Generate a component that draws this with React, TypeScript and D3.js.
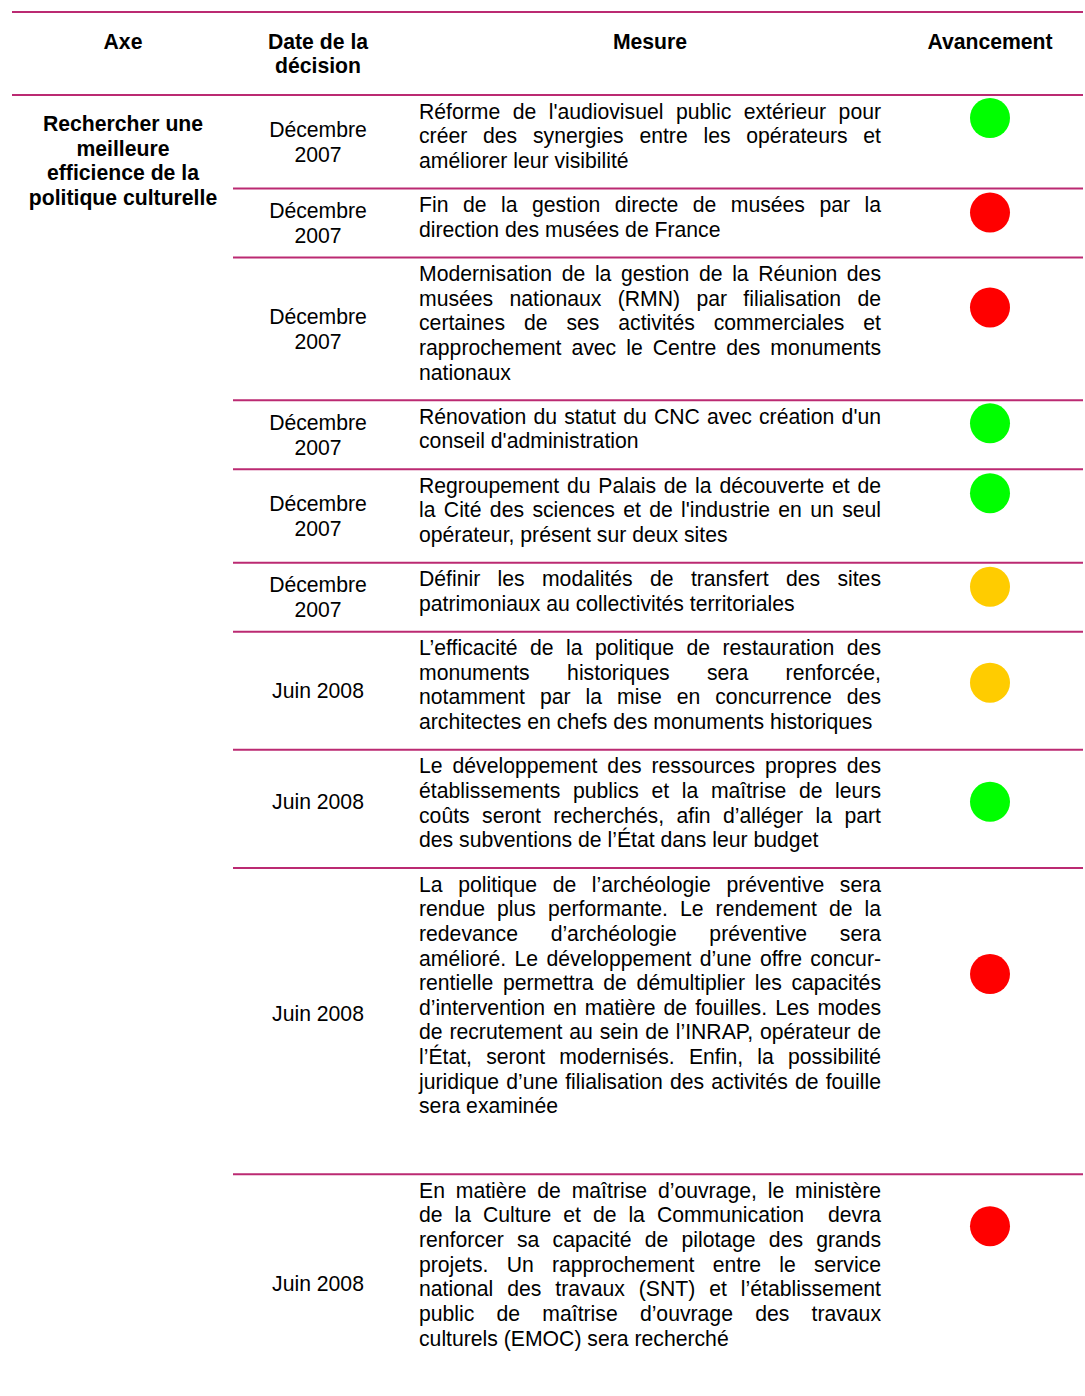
import React, { useMemo } from "react";
import * as d3 from "d3";

// --- data ---------------------------------------------------------------
const headerLabels = [["Axe"], ["Date de la", "décision"], ["Mesure"], ["Avancement"]];

const axeLabel = ["Rechercher une", "meilleure", "efficience de la", "politique culturelle"];

const dates = [
  ["Décembre", "2007"],
  ["Décembre", "2007"],
  ["Décembre", "2007"],
  ["Décembre", "2007"],
  ["Décembre", "2007"],
  ["Décembre", "2007"],
  ["Juin 2008"],
  ["Juin 2008"],
  ["Juin 2008"],
  ["Juin 2008"],
];

const statuses = ["vert", "rouge", "rouge", "vert", "vert", "orange", "orange", "vert", "rouge", "rouge"];

const measures = [
  ["Réforme de l'audiovisuel public extérieur pour", "créer des synergies entre les opérateurs et", "améliorer leur visibilité"],
  ["Fin de la gestion directe de musées par la", "direction des musées de France"],
  [
    "Modernisation de la gestion de la Réunion des",
    "musées nationaux (RMN) par filialisation de",
    "certaines de ses activités commerciales et",
    "rapprochement avec le Centre des monuments",
    "nationaux",
  ],
  ["Rénovation du statut du CNC avec création d'un", "conseil d'administration"],
  [
    "Regroupement du Palais de la découverte et de",
    "la Cité des sciences et de l'industrie en un seul",
    "opérateur, présent sur deux sites",
  ],
  ["Définir les modalités de transfert des sites", "patrimoniaux au collectivités territoriales"],
  [
    "L’efficacité de la politique de restauration des",
    "monuments historiques sera renforcée,",
    "notamment par la mise en concurrence des",
    "architectes en chefs des monuments historiques",
  ],
  [
    "Le développement des ressources propres des",
    "établissements publics et la maîtrise de leurs",
    "coûts seront recherchés, afin d’alléger la part",
    "des subventions de l’État dans leur budget",
  ],
  [
    "La politique de l’archéologie préventive sera",
    "rendue plus performante. Le rendement de la",
    "redevance d’archéologie préventive sera",
    "amélioré. Le développement d’une offre concur-",
    "rentielle permettra de démultiplier les capacités",
    "d’intervention en matière de fouilles. Les modes",
    "de recrutement au sein de l’INRAP, opérateur de",
    "l’État, seront modernisés. Enfin, la possibilité",
    "juridique d’une filialisation des activités de fouille",
    "sera examinée",
  ],
  [
    "En matière de maîtrise d’ouvrage, le ministère",
    "de la Culture et de la Communication  devra",
    "renforcer sa capacité de pilotage des grands",
    "projets. Un rapprochement entre le service",
    "national des travaux (SNT) et l’établissement",
    "public de maîtrise d’ouvrage des travaux",
    "culturels (EMOC) sera recherché",
  ],
];

// --- layout -------------------------------------------------------------
const W = 1085, H = 1396;
const FONT = "'Liberation Sans', Arial, sans-serif";
const FS = 21.2;
const LH = 24.65;
const PAD = 19.6;
const LINE_COLOR = "#bb2a72";

const tableLeft = 12, tableRight = 1083, rowLeft = 233;
const headTop = 12, bodyTop = 95;
const colAxe = 123, colDate = 318, colDot = 990;
const textLeft = 419, textRight = 881;

// empty paragraph space under some cells, how far down the dot sits,
// and how much some dates sit above the cell middle
const trailingBlank = [0, 0, 0, 0, 0, 0, 0, 0, 40, 26];
const dotDrop = [23, 24, 50, 23, 24, 24, 51, 52, 106, 52];
const dateLift = [0, 0, 0, 0, 0, 0, 0, 7, 8, 0];

const statusColor = d3
  .scaleOrdinal<string, string>()
  .domain(["vert", "rouge", "orange"])
  .range(["#00ff00", "#ff0000", "#ffcc00"]);

let ctx: CanvasRenderingContext2D | null = null;
const measure = (s: string) => {
  if (!ctx) {
    ctx = document.createElement("canvas").getContext("2d");
  }
  ctx!.font = `${FS}px ${FONT}`;
  return ctx!.measureText(s).width;
};

// lay words out across the column, except on the paragraph's last line
const justify = (line: string, last: boolean) => {
  const words = line.split(" ");
  if (last || words.length < 2) return [{ w: line, x: textLeft }];
  const widths = words.map(measure);
  const gap = (textRight - textLeft - d3.sum(widths)) / (words.length - 1);
  let x = textLeft;
  return words.map((w, i) => {
    const out = { w, x };
    x += widths[i] + gap;
    return out;
  });
};

const App = () => {
  const rows = useMemo(() => {
    const heights = measures.map((m, i) => PAD + m.length * LH + trailingBlank[i]);
    const tops = [bodyTop, ...d3.cumsum(heights).map((c) => bodyTop + c)];
    return measures.map((m, i) => ({
      top: tops[i],
      bottom: tops[i + 1],
      lines: m.map((l, j) => justify(l, j === m.length - 1)),
      date: dates[i],
      status: statuses[i],
      dotY: tops[i] + dotDrop[i],
    }));
  }, []);

  const headX = [colAxe, colDate, (textLeft + textRight) / 2, colDot];

  return (
    <div style={{ position: "absolute", left: 0, top: 0 }}>
      <svg width={W} height={H} style={{ display: "block", background: "#fff" }} fontFamily={FONT} fontSize={FS}>
        {/* header */}
        <line x1={tableLeft} x2={tableRight} y1={headTop} y2={headTop} stroke={LINE_COLOR} strokeWidth={2} />
        {headerLabels.map((lab, i) => (
          <text key={i} x={headX[i]} textAnchor="middle" fontWeight="bold">
            {lab.map((t, j) => (
              <tspan key={j} x={headX[i]} y={headTop + 37 + j * 24.3}>
                {t}
              </tspan>
            ))}
          </text>
        ))}
        <line x1={tableLeft} x2={tableRight} y1={bodyTop} y2={bodyTop} stroke={LINE_COLOR} strokeWidth={2} />

        {/* axe */}
        <text textAnchor="middle" fontWeight="bold">
          {axeLabel.map((t, j) => (
            <tspan key={j} x={colAxe} y={bodyTop + 36 + j * 24.6}>
              {t}
            </tspan>
          ))}
        </text>

        {rows.map((r, i) => {
          const mid = (r.top + r.bottom) / 2 - dateLift[i];
          return (
            <g key={i}>
              {i > 0 && (
                <line x1={rowLeft} x2={tableRight} y1={r.top} y2={r.top} stroke={LINE_COLOR} strokeWidth={2} />
              )}
              <text textAnchor="middle">
                {r.date.map((t, j) => (
                  <tspan key={j} x={colDate} y={mid + 7.5 + (j - (r.date.length - 1) / 2) * LH}>
                    {t}
                  </tspan>
                ))}
              </text>
              {r.lines.map((ln, j) => (
                <text key={j} y={r.top + 23.5 + j * LH} xmlSpace="preserve">
                  {ln.map((w, k) => (
                    <tspan key={k} x={w.x}>
                      {w.w}
                    </tspan>
                  ))}
                </text>
              ))}
              <circle cx={colDot} cy={r.dotY} r={20} fill={statusColor(r.status)} />
            </g>
          );
        })}
      </svg>
    </div>
  );
};

export default App;
